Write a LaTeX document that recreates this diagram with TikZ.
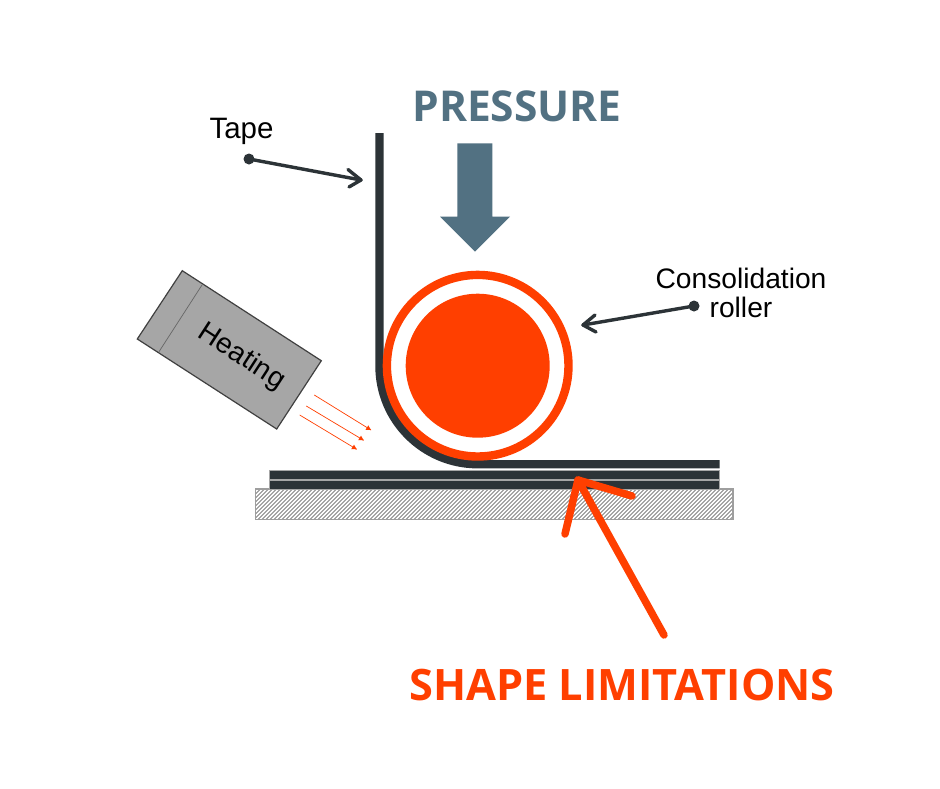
\documentclass[tikz,border=0pt]{standalone}
\usepackage{fontspec}
\setmainfont{Liberation Sans}
\newfontfamily\headfont{Open Sans}
\definecolor{tapedark}{HTML}{2C3337}
\definecolor{hot}{HTML}{FF3F00}
\definecolor{steel}{HTML}{527182}
\definecolor{heatgray}{HTML}{A6A6A6}
\tikzset{
  tapeline/.style={draw=tapedark,line width=8.2pt},
  layer/.style={fill=tapedark,draw=black!35,line width=.5pt},
  leader/.style={draw=tapedark,line width=3.4pt,line cap=round,line join=round},
  ray/.style={draw=hot,line width=.7pt},
  rayhead/.style={fill=hot},
  label/.style={font=\fontsize{28.2}{28.5}\selectfont,text=black,align=center,inner sep=0pt},
  head/.style={font=\headfont\bfseries\fontsize{43.3}{50}\selectfont,inner sep=0pt},
  bigred/.style={draw=hot,line width=7.5pt,line cap=round,line join=round},
  dotmark/.style={circle,fill=tapedark,minimum size=11pt,inner sep=0pt}
}
\begin{document}
\begin{tikzpicture}[x=1pt,y=-1pt]
\useasboundingbox (0,0) rectangle (940,788);
\fill[white] (0,0) rectangle (940,788);
% base
\fill[white] (255.5,489) rectangle (733,519.5);
\begin{scope}
\clip (255.5,489) rectangle (733,519.5);
\foreach \x in {222,226,...,770}
  \draw[black!48,line width=1pt] (\x,519.5) -- (\x+30.5,489);
\end{scope}
\draw[black!38,line width=1.3pt] (255.5,489) rectangle (733,519.5);
% layers
\draw[layer] (269,480.5) rectangle (719.5,489);
\draw[layer] (269,470.7) rectangle (719.5,479);
% tape
\draw[tapeline] (379.4,133) -- (379.4,366) arc[start angle=180,end angle=90,radius=98.3] -- (719.5,464.3);
% roller
\draw[hot,line width=8.4pt] (477.7,365.7) circle[radius=90.8];
\fill[hot] (477.7,365.7) circle[radius=72];
% pressure arrow
\fill[steel] (457.3,143.3) -- (492.3,143.3) -- (492.3,216.7) -- (510,216.7) -- (475,251.7) -- (440,216.7) -- (457.3,216.7) -- cycle;
\node[head,text=steel,font=\headfont\bfseries\fontsize{42.5}{50}\selectfont] (pressure) at (517,106) {PRESSURE};
% heater
\filldraw[fill=heatgray,draw=black!75,line width=1.2pt] (182.3,270.7) -- (137.3,339) -- (276.7,429) -- (321.3,360.7) -- cycle;
\draw[black!60,line width=.7pt] (202,285) -- (159,351.7);
\node[label,rotate=-33] (heating) at (241.5,357) {Heating};
% rays
\foreach \ax/\ay/\bx/\by in {314.3/395/371/430,306.3/406/363.7/440.3,299.7/415/356.7/449.3}{
  \draw[ray] (\ax,\ay) -- (\bx,\by);
  \fill[rayhead] (\bx,\by) -- ++(-5.5,-.2) -- ++(2.8,-4.4) -- cycle;
}
% tape label
\node[label,font=\fontsize{29.5}{30}\selectfont] (tapelabel) at (241.5,131) {Tape};
\node[dotmark] (tapedot) at (249,159) {};
\coordinate (tapetip) at (361,180);
\draw[leader] (tapedot.center) -- (tapetip);
\draw[leader] (348,169.5) -- (tapetip) -- (349,187);
% roller label
\node[label] (rollerlabel) at (741,293) {Consolidation\\roller};
\node[dotmark] (rollerdot) at (694,306) {};
\coordinate (rollertip) at (583,325);
\draw[leader] (rollerdot.center) -- (rollertip);
\draw[leader] (595,315) -- (rollertip) -- (596,332);
% shape limitations
\node[head,text=hot] (shape) at (622,685) {SHAPE LIMITATIONS};
\coordinate (redtip) at (578,480);
\coordinate (redtail) at (664,635);
\coordinate (redleft) at (565,534);
\coordinate (redright) at (632,496);
\draw[bigred] (redtail) -- (redtip);
\draw[bigred] (redleft) -- (redtip) -- (redright);
\end{tikzpicture}
\end{document}
